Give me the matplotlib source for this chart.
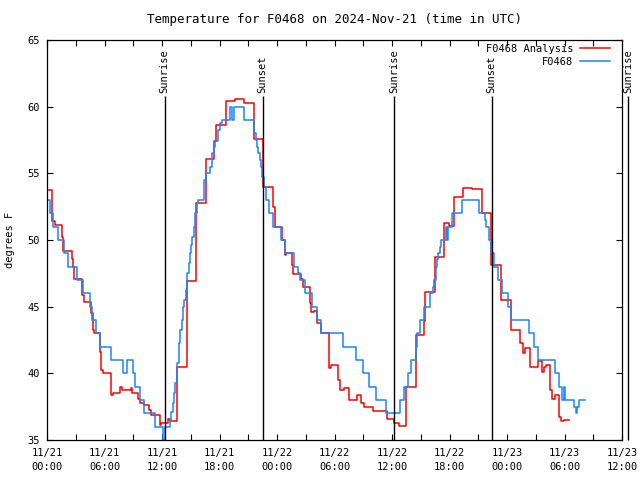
import matplotlib
matplotlib.use('Agg')
import matplotlib.pyplot as plt
import matplotlib.dates as mdates
import pandas as pd

start = pd.Timestamp('2024-11-21 00:00')

# analysis series (hours after start, deg F), step changes
red_hours = [0.0, 0.55, 0.83, 1.6, 1.7, 2.57, 2.67, 2.84, 3.6, 3.7, 3.88, 4.57, 4.75, 4.92,
             5.51, 5.61, 5.86, 6.65, 6.93, 7.62, 7.83, 8.73, 8.87, 9.5, 9.7, 10.1, 10.6, 10.8,
             11.78, 11.92, 12.48, 12.6, 12.82, 13.52, 13.6, 14.59, 15.53, 16.64, 17.47, 17.6,
             18.68, 19.6, 20.6, 21.56, 22.5, 22.57, 23.57, 23.75, 24.47, 24.82, 24.9, 25.58,
             25.72, 26.55, 26.76, 27.45, 27.59, 27.87, 28.21, 28.56, 28.63, 29.46, 29.67, 30.36,
             30.57, 30.99, 31.54, 32.37, 32.72, 33.07, 33.97, 35.49, 36.26, 36.74, 37.43, 38.47,
             39.37, 39.44, 40.45, 41.42, 41.94, 42.42, 43.39, 44.37, 45.37, 46.36, 47.38, 48.42,
             49.39, 49.67, 49.88, 50.43, 51.26, 51.61, 51.82, 52.02, 52.51, 52.65, 53.0, 53.42,
             53.62, 53.9, 54.42]
red_temps = [53.75, 51.4, 51.1, 50.25, 49.2, 48.6, 47.95, 47.1, 46.5, 45.9, 45.35, 44.5, 43.25, 43.05,
             41.6, 40.25, 40.0, 38.4, 38.5, 39.0, 38.75, 38.9, 38.5, 38.1, 37.75, 37.6, 37.25, 36.9,
             36.1, 36.25, 36.3, 36.55, 36.45, 38.6, 40.5, 46.9, 52.8, 56.1, 57.4, 58.6,
             60.4, 60.6, 60.25, 57.6, 55.5, 54.0, 52.5, 51.0, 50.0, 48.9, 49.0, 48.1,
             47.45, 47.1, 46.5, 45.25, 44.6, 44.7, 43.75, 43.4, 43.0, 40.4, 40.6, 39.5,
             38.75, 38.9, 38.0, 38.4, 37.75, 37.5, 37.2, 36.6, 36.25, 36.05, 39.0, 42.9,
             43.95, 46.1, 48.7, 51.25, 51.05, 53.25, 53.9, 53.8, 52.0, 48.1, 45.5, 43.25,
             42.25, 41.5, 41.9, 40.5, 40.95, 40.1, 40.5, 40.6, 38.75, 38.1, 38.4, 36.75,
             36.4, 36.5, 36.5]

# observed series
blue_hours = [0.0, 0.28, 0.62, 1.18, 1.73, 2.22, 3.08, 3.74, 4.44, 4.71, 5.16, 5.55, 6.72, 7.97,
              8.32, 8.98, 9.15, 9.7, 10.12, 11.3, 12.06, 12.27, 12.82, 12.96, 13.1, 13.24, 13.38,
              13.52, 13.59, 13.73, 13.8, 13.93, 14.07, 14.21, 14.28, 14.49, 14.56, 14.63, 14.77,
              14.9, 15.04, 15.18, 15.32, 15.46, 15.6, 15.74, 16.43, 16.57, 17.05, 17.26, 17.4,
              17.54, 17.82, 18.02, 18.23, 19.06, 19.34, 19.48, 20.52, 21.56, 21.77, 21.9, 22.04,
              22.18, 22.32, 22.46, 22.6, 22.88, 23.15, 23.57, 24.4, 24.82, 25.79, 26.2, 26.41,
              26.9, 27.66, 28.21, 28.63, 30.85, 32.23, 32.93, 33.55, 34.31, 35.42, 36.88, 37.3,
              37.64, 37.99, 38.47, 38.61, 38.96, 39.37, 39.93, 40.27, 40.34, 40.55, 40.69, 40.83,
              40.97, 41.11, 41.66, 41.73, 41.8, 42.29, 43.26, 45.13, 45.68, 45.82, 46.1, 46.3,
              46.69, 47.03, 47.45, 48.07, 48.42, 50.29, 50.78, 51.26, 53.06, 53.41, 53.76, 53.9,
              54.04, 55.0, 55.21, 55.35, 55.49, 56.12]
blue_temps = [53, 52, 51, 50, 49, 48, 47, 46, 45, 44, 43, 42, 41, 40,
              41, 40, 39, 38, 37, 36, 35, 36, 36.5, 37.1, 37.75, 38.5, 39.25,
              40.0, 40.75, 41.5, 42.25, 43.25, 44.0, 45.0, 45.5, 46.25, 46.9, 47.5, 48.25,
              49.0, 49.6, 50.25, 51.0, 52.0, 52.75, 53.0, 54.5, 55.0, 55.5, 56.5, 57.0,
              57.4, 58.25, 58.75, 59, 60, 59, 60, 59, 58, 57.5, 57, 56.5,
              56, 55.5, 54.75, 54, 53, 52, 51, 50, 49, 48, 47.5, 47,
              46, 45, 44, 43, 42, 41, 40, 39, 38, 37, 38, 39,
              40, 41, 42, 43, 44, 45, 46, 46.5, 47, 48, 48.6, 49,
              49.5, 50, 51, 50, 51, 52, 53, 52, 51.5, 51, 50, 49,
              48, 47, 46, 45, 44, 43, 42, 41, 40, 39, 38, 39,
              38, 37.5, 37, 37.5, 38, 38]

event_hours = [12.28, 22.5, 36.22, 46.4, 60.6]
event_names = ['Sunrise', 'Sunset', 'Sunrise', 'Sunset', 'Sunrise']


def to_time(hours):
    return start + pd.to_timedelta(hours, unit='h')


plt.rcParams['font.family'] = 'DejaVu Sans Mono'
plt.rcParams['font.size'] = 7.5

fig = plt.figure(figsize=(6.4, 4.8), dpi=100)
ax = fig.add_axes([47 / 640, 40 / 480, 575 / 640, 400 / 480])

ax.plot(to_time(red_hours), red_temps, drawstyle='steps-post', color='#ff0000', lw=1.1,
        label='F0468 Analysis')
ax.plot(to_time(blue_hours), blue_temps, drawstyle='steps-post', color='#1a85ff', lw=1.1,
        label='F0468')

# sunrise / sunset markers
ax.vlines(to_time(event_hours), 35, 60.8, color='black', lw=1.0, clip_on=False)
for h, name in zip(event_hours, event_names):
    ax.text(to_time(h), 61.0, name, rotation=90, ha='center', va='bottom', clip_on=False)

ax.set_xlim(to_time(0), to_time(60))
ax.set_ylim(35, 65)
ax.set_yticks(range(35, 66, 5))

ax.xaxis.set_major_locator(mdates.HourLocator(byhour=[0, 6, 12, 18]))
ax.xaxis.set_minor_locator(mdates.HourLocator(byhour=[3, 9, 15, 21]))
ax.xaxis.set_major_formatter(mdates.DateFormatter('%m/%d\n%H:%M'))
for lbl in ax.get_xticklabels():
    lbl.set_linespacing(1.45)
ax.tick_params(which='both', direction='in', top=True, right=True, length=4, width=0.8)
ax.tick_params(axis='x', pad=6)
ax.tick_params(axis='y', pad=5)
for s in ax.spines.values():
    s.set_linewidth(0.9)

ax.set_title('Temperature for F0468 on 2024-Nov-21 (time in UTC)', pad=12)
ax.set_ylabel('degrees F')
ax.yaxis.set_label_coords(-0.056, 0.5)

ax.legend(loc='upper right', bbox_to_anchor=(0.979, 0.99), frameon=False, markerfirst=False,
          borderaxespad=0, borderpad=0, handlelength=2.9, handletextpad=0.6, labelspacing=0.25)

fig.savefig('out.png', dpi=100)
